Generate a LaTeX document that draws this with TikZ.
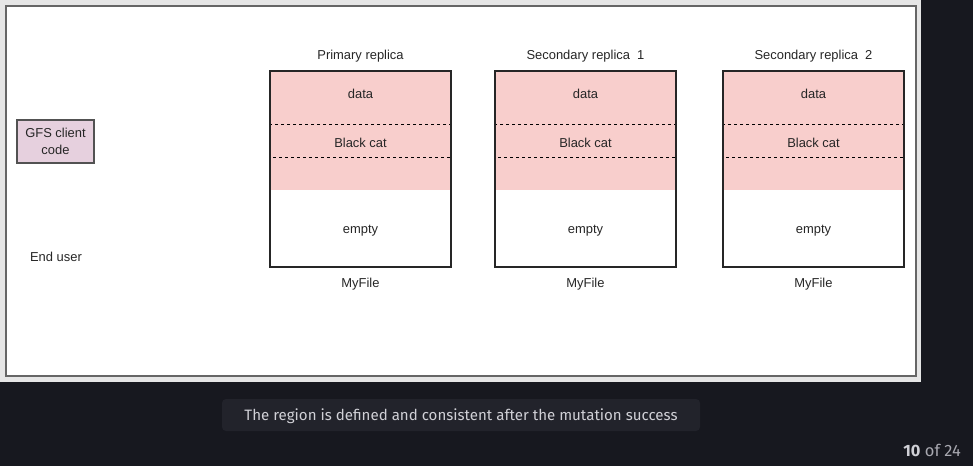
\documentclass[tikz,border=0pt]{standalone}
\usepackage{fontspec}
\setmainfont{Liberation Sans}
\newfontfamily\capfont{Fira Sans}
\definecolor{darkbg}{HTML}{17181F}
\definecolor{framegray}{HTML}{E6E6E6}
\definecolor{bordergray}{HTML}{666666}
\definecolor{pinkfill}{HTML}{F8CECC}
\definecolor{lilac}{HTML}{E6D0DE}
\definecolor{capbox}{HTML}{22232B}
\definecolor{captext}{HTML}{D0D0D6}
\definecolor{pagegray}{HTML}{A8A8B0}
\definecolor{boxline}{HTML}{262626}
\tikzset{
  lbl/.style={font=\fontsize{9.7}{11.5}\selectfont, text=black!85, inner sep=0pt, anchor=center},
  filebox/.style={draw=boxline, line width=1.1pt, minimum width=135.75pt, minimum height=147pt, inner sep=0pt},
  sepline/.style={draw=black, line width=0.75pt, dash pattern=on 2.25pt off 2.25pt},
  clientbox/.style={draw=bordergray!80!black, line width=1pt, fill=lilac, minimum width=57.75pt, minimum height=32.25pt, inner sep=0pt, align=center, font=\fontsize{9.7}{12.5}\selectfont, text=black!85}
}
\begin{document}
\begin{tikzpicture}[x=0.75pt,y=-0.75pt]
\useasboundingbox (0,0) rectangle (973,466);
\fill[darkbg] (0,0) rectangle (973,466);
\fill[framegray] (0,0) rectangle (921,382);
\draw[bordergray, line width=1.2pt, fill=white] (6,6) rectangle (916,376);

% GFS client
\node[clientbox] (client) at (55.5,141.5) {GFS client\\code};
\node[lbl] (enduser) at (56,256.5) {End user};

% replicas
\foreach \n/\x/\title in {p/360.5/Primary replica, s/585.5/Secondary replica~~1, t/813.5/Secondary replica~~2}{
  \fill[pinkfill] (\x-90.5,71) rectangle (\x+90.5,190);
  \draw[sepline] (\x-90.5,125) rectangle (\x+90.5,158);
  \node[filebox] (box\n) at (\x,169) {};
  \node[lbl] (title\n) at (\x,56) {\title};
  \node[lbl] (data\n) at (\x,93.5) {data};
  \node[lbl] (cat\n) at (\x,142.5) {Black cat};
  \node[lbl] (empty\n) at (\x,230.5) {empty};
  \node[lbl] (file\n) at (\x,284.5) {MyFile};
}

% caption
\fill[capbox, rounded corners=3pt] (222,399) rectangle (700,431);
\node[inner sep=0pt, text=captext, font=\capfont\fontsize{11.3}{13}\selectfont] (caption) at (461,416.5) {The region is defined and consistent after the mutation success};
\node[inner sep=0pt, anchor=east, font=\capfont\fontsize{12.3}{14}\selectfont] (page) at (961,450) {\textcolor{captext}{\textbf{10}} \textcolor{pagegray}{of 24}};
\end{tikzpicture}
\end{document}
